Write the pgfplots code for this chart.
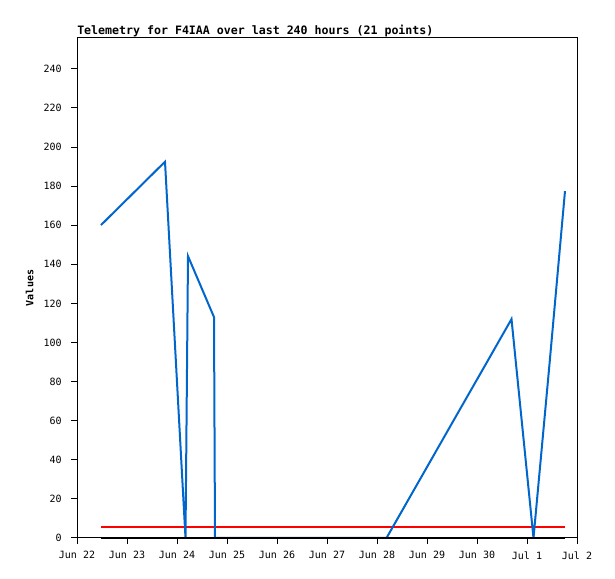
\documentclass[border=0pt]{standalone}
\usepackage{pgfplots}
\pgfplotsset{compat=1.18}
\usepackage{fontspec}
\setmonofont{DejaVu Sans Mono}
\definecolor{tblue}{RGB}{0,102,204}
\begin{document}
\begin{tikzpicture}
% 1px = 0.75pt, picture 615x579 px
\useasboundingbox (0pt,0pt) rectangle (461.25pt,434.25pt);
\node[anchor=base west,inner sep=0pt,font=\ttfamily\bfseries\fontsize{8.7}{10}\selectfont] at (57.75pt,408pt) {Telemetry for F4IAA over last 240 hours (21 points)};
\begin{axis}[at={(57.75pt,30.75pt)},anchor=south west,
    scale only axis,width=375pt,height=375pt,
    xmin=0,xmax=10,ymin=0,ymax=255.8,
    xtick={0,...,10},
    xticklabels={Jun 22,Jun 23,Jun 24,Jun 25,Jun 26,Jun 27,Jun 28,Jun 29,Jun 30,Jul 1,Jul 2},
    ytick={0,20,...,240},
    tick align=outside,tick pos=left,
    major tick length=4.5pt,
    every tick/.style={black,line width=0.75pt},
    axis line style={line width=0.75pt},
    ticklabel style={font=\ttfamily\fontsize{7.5}{9}\selectfont},
    /pgf/number format/assume math mode=true,
    ylabel={\ttfamily\bfseries\fontsize{7.5}{9}\selectfont Values},
    ylabel style={at={(axis description cs:0,0.5)},anchor=south,yshift=29pt},
    xticklabel style={yshift=-2pt},
    yticklabel style={xshift=-3.5pt},
    clip=false]
\addplot[red,line width=1.5pt] coordinates {(0.48,5.8) (9.76,5.8)};
\addplot[tblue,line width=1.5pt] coordinates {
(0.48,160.1) (1.12,176.3) (1.76,192.5) (2.17,0) (2.22,144.2) (2.74,113.0)
(2.76,0) (3.2,0) (3.7,0) (4.2,0) (4.7,0) (5.2,0) (5.7,0) (6.19,0)
(6.9,31.8) (7.6,63.2) (8.2,90.0) (8.69,112.0) (9.13,0) (9.45,89) (9.76,177.5)};
\addplot[black,line width=1.5pt] coordinates {(0.48,0) (9.76,0)};
\end{axis}
\end{tikzpicture}
\end{document}
